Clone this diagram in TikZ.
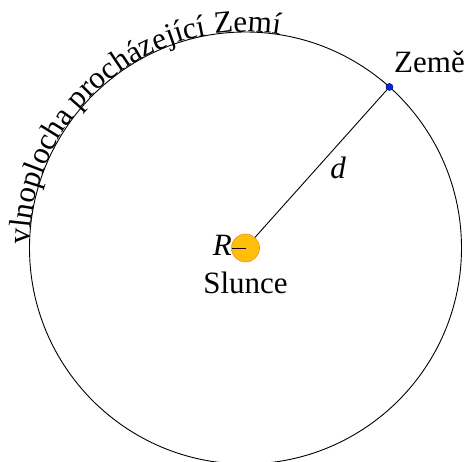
\documentclass[tikz,border=0pt]{standalone}
\usepackage{fontspec}
\setmainfont{Liberation Serif}
\usetikzlibrary{decorations.text,calc}
\begin{document}
\begin{tikzpicture}[x=1pt,y=1pt,
  lbl/.style={font=\fontsize{31}{36}\selectfont, inner sep=0pt},
  thinline/.style={line width=0.9pt, black}]
\useasboundingbox (0,0) rectangle (465,462);
\coordinate (C) at (245.5,214);
\draw[thinline] (C) circle (216);
\coordinate (E) at ($(C)+(48.2:216)$);
\coordinate (Rl) at ($(C)+(-14,0)$);
\draw[thinline] (C) -- (E);
\node[circle, minimum size=28pt, inner sep=0pt, fill={rgb,255:red,255;green,190;blue,10}, draw={rgb,255:red,245;green,140;blue,30}, line width=0.6pt] (sun) at (C) {};
\draw[thinline] (C) -- (Rl);
\node[circle, minimum size=7pt, inner sep=0pt, fill={rgb,255:red,0;green,40;blue,220}, draw={rgb,255:red,0;green,0;blue,140}, line width=0.5pt] (earth) at (E) {};
\node[lbl, anchor=base east] (R) at (232,206) {\itshape R};
\node[lbl, anchor=base] (slunce) at (245.5,168) {Slunce};
\node[lbl, anchor=base west] (zeme) at (394,389) {Země};
\node[lbl, anchor=base] (d) at (338,283) {\itshape d};
\path[decorate, decoration={text along path, text align=left,
  text={|\fontsize{31}{36}\selectfont|vlnoplocha procházející Zemí}}]
  ($(C)+(179:216)$) arc[start angle=179, end angle=60, radius=216];
\end{tikzpicture}
\end{document}
